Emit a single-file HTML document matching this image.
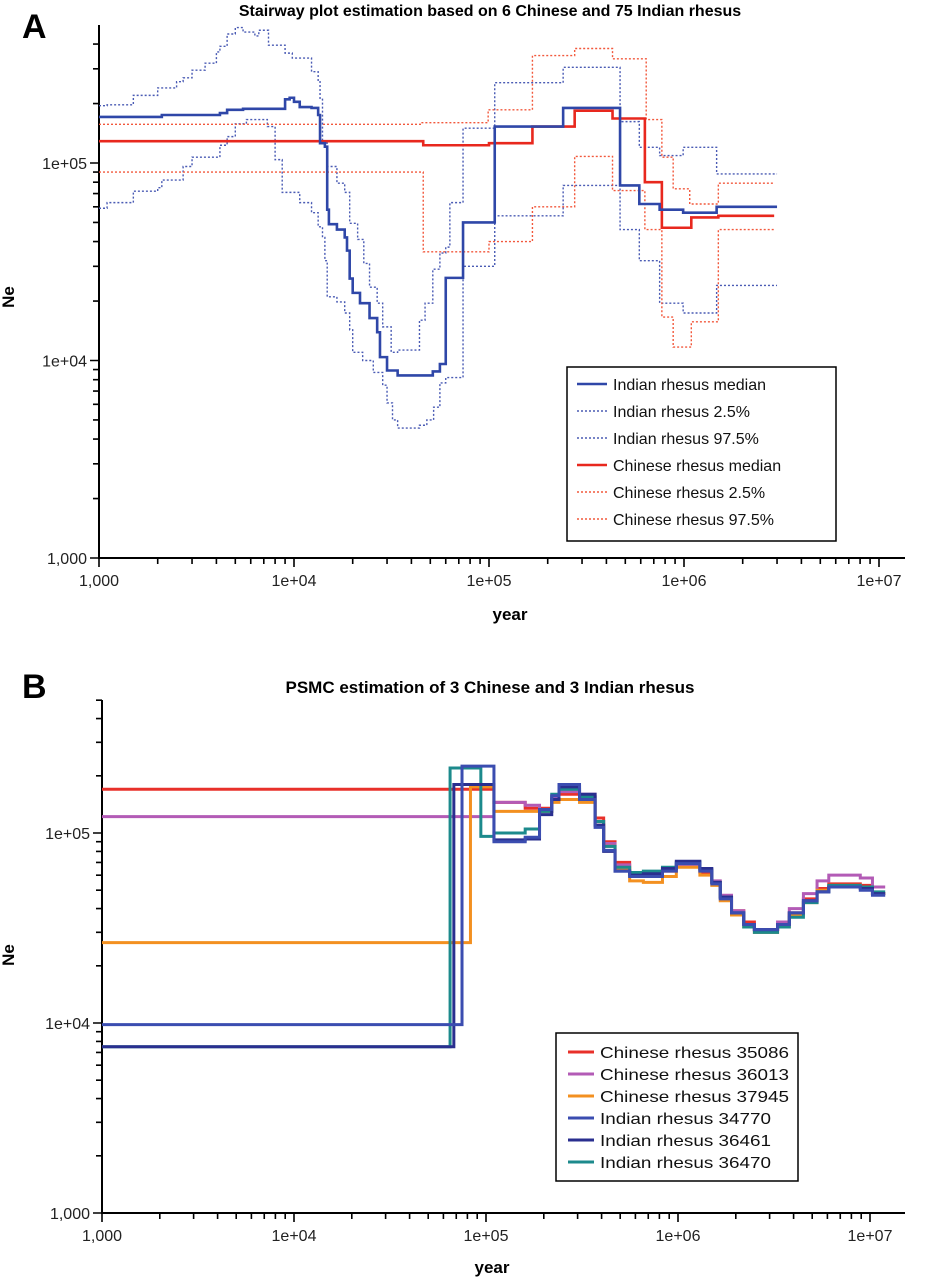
<!DOCTYPE html>
<html><head><meta charset="utf-8">
<style>
html,body{margin:0;padding:0;background:#fff;}
body{width:930px;height:1280px;overflow:hidden;font-family:"Liberation Sans",sans-serif;}
svg text{font-family:"Liberation Sans","DejaVu Sans",sans-serif;}
</style></head>
<body>
<svg id="chart" width="930" height="1280" viewBox="0 0 930 1280" xmlns="http://www.w3.org/2000/svg">
<text x="22" y="38" font-size="34" font-weight="bold">A</text>
<text x="490" y="16" font-size="16" font-weight="bold" text-anchor="middle">Stairway plot estimation based on 6 Chinese and 75 Indian rhesus</text>
<text x="22" y="698" font-size="34" font-weight="bold">B</text>
<text x="490" y="693" font-size="17" font-weight="bold" text-anchor="middle">PSMC estimation of 3 Chinese and 3 Indian rhesus</text>
<g id="pa"></g>
<g id="pb"></g>
</svg>
<script>
// ---------- Panel A data (stairway plot), step-after: [year, Ne] ----------
const aIndMedYears=[1000,2100,4170,4540,5480,9000,9500,10000,10700,12300,13300,13600,14400,14800,15100,16600,18200,18700,19300,20000,21800,24400,26700,27600,30000,34000,51500,56000,60000,73600,107000,240000,470000,590000,750000,990000,1470000,3000000];
const aIndMedNe=[1.71e5,1.75e5,1.79e5,1.86e5,1.88e5,2.1e5,2.14e5,2.04e5,1.92e5,1.9e5,1.75e5,1.26e5,1.21e5,5.8e4,4.9e4,4.6e4,4.2e4,3.6e4,2.6e4,2.2e4,1.95e4,1.64e4,1.39e4,1.04e4,8.9e3,8.4e3,8.8e3,9.6e3,2.62e4,5.0e4,1.53e5,1.9e5,7.7e4,6.2e4,5.8e4,5.6e4,6.0e4,6.0e4];
const aIndLoYears=[1000,1100,1500,2000,2100,2700,3000,4170,4540,5000,5700,7300,8000,8700,10700,12300,13300,14000,14400,14800,16600,18200,19300,20000,22500,25500,28500,30000,32000,34000,44000,48000,52000,56000,60000,73600,107000,240000,470000,590000,750000,990000,1470000,3000000];
const aIndLoNe=[5.9e4,6.3e4,7.2e4,7.5e4,8.2e4,9.6e4,1.07e5,1.23e5,1.36e5,1.58e5,1.66e5,1.53e5,1.04e5,7.1e4,6.3e4,5.6e4,4.75e4,4.2e4,3.2e4,2.1e4,1.98e4,1.74e4,1.43e4,1.1e4,1.0e4,8.7e3,7.5e3,6.1e3,5.0e3,4.55e3,4.7e3,5.0e3,5.8e3,7.7e3,8.2e3,3.0e4,5.4e4,7.7e4,4.6e4,3.2e4,1.95e4,1.74e4,2.4e4,2.4e4];
const aIndHiYears=[1000,1100,1500,2000,2500,2700,3000,3500,4000,4170,4540,5000,5480,6300,6600,7400,9000,9800,12300,13300,13600,14000,14800,16600,18200,19300,21200,22800,24400,26700,28500,31500,34000,44000,47000,51500,56000,60000,63000,73600,107000,240000,470000,590000,750000,990000,1470000,3000000];
const aIndHiNe=[1.95e5,1.97e5,2.2e5,2.4e5,2.58e5,2.7e5,2.95e5,3.2e5,3.65e5,3.9e5,4.5e5,4.85e5,4.6e5,4.4e5,4.7e5,3.95e5,3.6e5,3.4e5,2.9e5,2.6e5,2.1e5,1.26e5,9.6e4,7.9e4,7.1e4,4.95e4,4.1e4,3.1e4,2.35e4,1.95e4,1.48e4,1.1e4,1.13e4,1.6e4,1.95e4,2.9e4,3.5e4,3.75e4,6.3e4,1.5e5,2.55e5,3.05e5,1.62e5,1.2e5,1.09e5,1.2e5,8.8e4,8.8e4];
const aChnMedYears=[1000,46000,100000,167000,275000,430000,630000,770000,1090000,1500000,2900000];
const aChnMedNe=[1.29e5,1.23e5,1.26e5,1.53e5,1.84e5,1.68e5,8.0e4,4.7e4,5.3e4,5.4e4,5.4e4];
const aChnLoYears=[1000,46000,100000,167000,275000,430000,630000,770000,880000,1090000,1500000,2900000];
const aChnLoNe=[9.0e4,3.55e4,4.0e4,6.0e4,1.08e5,7.25e4,4.6e4,1.66e4,1.17e4,1.57e4,4.6e4,4.6e4];
const aChnHiYears=[1000,45000,99000,167000,275000,430000,640000,770000,880000,1070000,1500000,2900000];
const aChnHiNe=[1.57e5,1.6e5,1.86e5,3.5e5,3.8e5,3.37e5,1.66e5,1.07e5,7.4e4,6.2e4,7.9e4,7.9e4];
const aXTicks=["1,000","1e+04","1e+05","1e+06","1e+07"];
const aYTicks=["1,000","1e+04","1e+05"];
const aLegendLabels=["Indian rhesus median","Indian rhesus 2.5%","Indian rhesus 97.5%","Chinese rhesus median","Chinese rhesus 2.5%","Chinese rhesus 97.5%"];

// ---------- Panel B data (PSMC) ----------
const bGridYears=[1.1e5,1.6e5,1.9e5,2.2e5,2.4e5,3.07e5,3.7e5,4.1e5,4.7e5,5.6e5,6.6e5,8.3e5,9.8e5,1.3e6,1.5e6,1.66e6,1.9e6,2.2e6,2.5e6,3.3e6,3.8e6,4.5e6,5.3e6,6.1e6,8.9e6,1.03e7];
const bEndYear=1.2e7;
const bRedPreYears=[1000];
const bRedPreNe=[1.7e5];
const bRedNe=[1.45e5,1.35e5,1.35e5,1.55e5,1.6e5,1.55e5,1.2e5,9.0e4,7.0e4,6.2e4,6.0e4,6.3e4,6.7e4,6.2e4,5.5e4,4.6e4,3.9e4,3.4e4,3.1e4,3.3e4,3.8e4,4.5e4,5.1e4,5.4e4,5.3e4,4.8e4];
const bMagPreYears=[1000];
const bMagPreNe=[1.22e5];
const bMagNe=[1.45e5,1.4e5,1.3e5,1.55e5,1.65e5,1.6e5,1.15e5,8.8e4,6.8e4,6.1e4,6.1e4,6.4e4,6.8e4,6.4e4,5.6e4,4.7e4,3.9e4,3.3e4,3.1e4,3.4e4,4.0e4,4.8e4,5.6e4,6.0e4,5.8e4,5.2e4];
const bOrgPreYears=[1000,8.3e4];
const bOrgPreNe=[2.65e4,1.75e5];
const bOrgNe=[1.3e5,1.3e5,1.3e5,1.45e5,1.5e5,1.45e5,1.1e5,8.5e4,6.5e4,5.6e4,5.5e4,5.9e4,6.6e4,6.0e4,5.3e4,4.4e4,3.7e4,3.2e4,3.0e4,3.2e4,3.7e4,4.3e4,5.0e4,5.3e4,5.2e4,4.8e4];
const bBluPreYears=[1000,7.5e4];
const bBluPreNe=[9.8e3,2.25e5];
const bBluNe=[9.0e4,9.5e4,1.33e5,1.57e5,1.8e5,1.5e5,1.07e5,8.1e4,6.3e4,5.9e4,5.9e4,6.3e4,6.9e4,6.3e4,5.4e4,4.5e4,3.8e4,3.3e4,3.1e4,3.3e4,3.8e4,4.4e4,4.9e4,5.2e4,5.0e4,4.7e4];
const bNavPreYears=[1000,6.8e4];
const bNavPreNe=[7.5e3,1.8e5];
const bNavNe=[9.2e4,9.3e4,1.25e5,1.5e5,1.75e5,1.6e5,1.1e5,8.0e4,6.3e4,6.0e4,6.1e4,6.5e4,7.1e4,6.5e4,5.5e4,4.6e4,3.8e4,3.3e4,3.1e4,3.3e4,3.8e4,4.4e4,4.9e4,5.2e4,5.1e4,4.8e4];
const bTelPreYears=[1000,6.5e4,9.4e4];
const bTelPreNe=[7.5e3,2.2e5,9.6e4];
const bTelNe=[1.0e5,1.05e5,1.3e5,1.6e5,1.7e5,1.55e5,1.15e5,8.5e4,6.6e4,6.2e4,6.3e4,6.6e4,7.0e4,6.4e4,5.5e4,4.6e4,3.8e4,3.2e4,3.0e4,3.2e4,3.6e4,4.3e4,4.9e4,5.3e4,5.2e4,4.9e4];
const bXTicks=["1,000","1e+04","1e+05","1e+06","1e+07"];
const bYTicks=["1,000","1e+04","1e+05"];
const bLegendLabels=["Chinese rhesus 35086","Chinese rhesus 36013","Chinese rhesus 37945","Indian rhesus 34770","Indian rhesus 36461","Indian rhesus 36470"];

const NS="http://www.w3.org/2000/svg";
function mk(tag,parent,attrs){const e=document.createElementNS(NS,tag);for(const k in attrs)e.setAttribute(k,attrs[k]);parent.appendChild(e);return e;}

function makeAxes(g,cfg){
  const X=v=>cfg.x0+cfg.xd*(Math.log10(v)-3);
  const Y=v=>cfg.y0-cfg.yd*(Math.log10(v)-3);
  const ax=mk('path',g,{d:`M${cfg.x0} ${cfg.top}V${cfg.y0}H${cfg.right}`,stroke:'#000','stroke-width':2,fill:'none'});
  
  
  let d='';
  for(let e=3;e<8;e++)for(let m=1;m<10;m++){const v=m*Math.pow(10,e);const px=X(v);if(px>cfg.right)continue;d+=`M${px} ${cfg.y0}v${m==1?9:6}`;}
  for(let e=3;e<6;e++)for(let m=1;m<10;m++){const v=m*Math.pow(10,e);const py=Y(v);if(py<cfg.top)continue;d+=`M${cfg.x0} ${py}h${m==1?-9:-6}`;}
  const tk=mk('path',g,{d:d,stroke:'#000','stroke-width':1.6,fill:'none'});
  
  
  cfg.xt.forEach((t,i)=>{const tx=mk('text',g,{x:X(Math.pow(10,3+i)),y:cfg.y0+28,'font-size':16,'text-anchor':'middle',fill:'#222'});tx.textContent=t;
    
    });
  cfg.yt.forEach((t,i)=>{const tx=mk('text',g,{x:cfg.x0-12,y:Y(Math.pow(10,3+i))+6,'font-size':16,'text-anchor':'end',fill:'#222'});tx.textContent=t;
    
    });
  const xl=mk('text',g,{x:cfg.xlx,y:cfg.xly,'font-size':17,'font-weight':'bold','text-anchor':'middle'});xl.textContent='year';
  
  
  const yl=mk('text',g,{x:0,y:0,'font-size':17,'font-weight':'bold','text-anchor':'middle',transform:`translate(${cfg.ylx},${cfg.yly}) rotate(-90)`});yl.textContent='Ne';
  
  
  return {X,Y};
}
function stepPath(S,years,nes,endYear){
  let d=`M${S.X(years[0])} ${S.Y(nes[0])}`;
  for(let i=1;i<years.length;i++){d+=`H${S.X(years[i])}V${S.Y(nes[i])}`;}
  d+=`H${S.X(endYear)}`;return d;
}
function legend(g,box,labels,styles,opt){
  const r=mk('rect',g,{x:box[0],y:box[1],width:box[2],height:box[3],fill:'#fff',stroke:'#000','stroke-width':1.5});
  
  
  labels.forEach((l,i)=>{const y=box[1]+opt.first+i*opt.rowH;
    const ln=mk('line',g,{x1:box[0]+opt.sw0,x2:box[0]+opt.sw1,y1:y,y2:y,stroke:styles[i].c,'stroke-width':styles[i].w,'stroke-dasharray':styles[i].dash||'none'});
    
    
    const at={x:box[0]+opt.tx,y:y+6,'font-size':opt.fs,fill:'#111'};
    if(opt.tl){at.textLength=opt.tl[i];at.lengthAdjust='spacingAndGlyphs';}
    const t=mk('text',g,at);t.textContent=l;
    
    });
}

// Panel A
const ga=document.getElementById('pa');
const SA=makeAxes(ga,{x0:99,xd:195,y0:558,yd:197.5,top:25,right:905,xt:aXTicks,yt:aYTicks,xlx:510,xly:620,ylx:14,yly:297});
const BL='#2f47a8',BLD='#4a5bb4',RD='#e8281e',RDD='#f2583c';
const aSeries=[
 [aIndLoYears,aIndLoNe,BLD,1.4,'2 2','indian-2.5-line'],
 [aIndHiYears,aIndHiNe,BLD,1.4,'2 2','indian-97.5-line'],
 [aChnLoYears,aChnLoNe,RDD,1.4,'2 2','chinese-2.5-line'],
 [aChnHiYears,aChnHiNe,RDD,1.4,'2 2','chinese-97.5-line'],
 [aChnMedYears,aChnMedNe,RD,2.6,null,'chinese-median-line'],
 [aIndMedYears,aIndMedNe,BL,2.6,null,'indian-median-line']];
aSeries.forEach(s=>{const p=mk('path',ga,{d:stepPath(SA,s[0],s[1],s[0][s[0].length-1]),stroke:s[2],'stroke-width':s[3],fill:'none','stroke-dasharray':s[4]||'none'});
  
  });
legend(ga,[567,367,269,174],aLegendLabels,[{c:BL,w:2.6},{c:BLD,w:1.4,dash:'2 2'},{c:BLD,w:1.4,dash:'2 2'},{c:RD,w:2.6},{c:RDD,w:1.4,dash:'2 2'},{c:RDD,w:1.4,dash:'2 2'}],{first:17,rowH:27,sw0:10,sw1:40,tx:46,fs:16});

// Panel B
const gb=document.getElementById('pb');
const SB=makeAxes(gb,{x0:102,xd:192,y0:1213,yd:190,top:700,right:905,xt:bXTicks,yt:bYTicks,xlx:492,xly:1273,ylx:14,yly:955});
const bCol=['#e8302a','#b35bb6','#f39020','#3b4db0','#2a2f8f','#1c8a8c'];
const bSeries=[
 [bRedPreYears,bRedPreNe,bRedNe,bCol[0],'chinese-35086-line'],
 [bMagPreYears,bMagPreNe,bMagNe,bCol[1],'chinese-36013-line'],
 [bOrgPreYears,bOrgPreNe,bOrgNe,bCol[2],'chinese-37945-line'],
 [bTelPreYears,bTelPreNe,bTelNe,bCol[5],'indian-36470-line'],
 [bNavPreYears,bNavPreNe,bNavNe,bCol[4],'indian-36461-line'],
 [bBluPreYears,bBluPreNe,bBluNe,bCol[3],'indian-34770-line']];
bSeries.forEach(s=>{const ys=s[0].concat(bGridYears),ns=s[1].concat(s[2]);
  const p=mk('path',gb,{d:stepPath(SB,ys,ns,bEndYear),stroke:s[3],'stroke-width':3,fill:'none'});
  
  });
legend(gb,[556,1033,242,148],bLegendLabels,bCol.map(c=>({c:c,w:3})),{first:19,rowH:22,sw0:12,sw1:38,tx:44,fs:16,tl:[189,189,189,171,171,171]});
</script>
</body></html>
